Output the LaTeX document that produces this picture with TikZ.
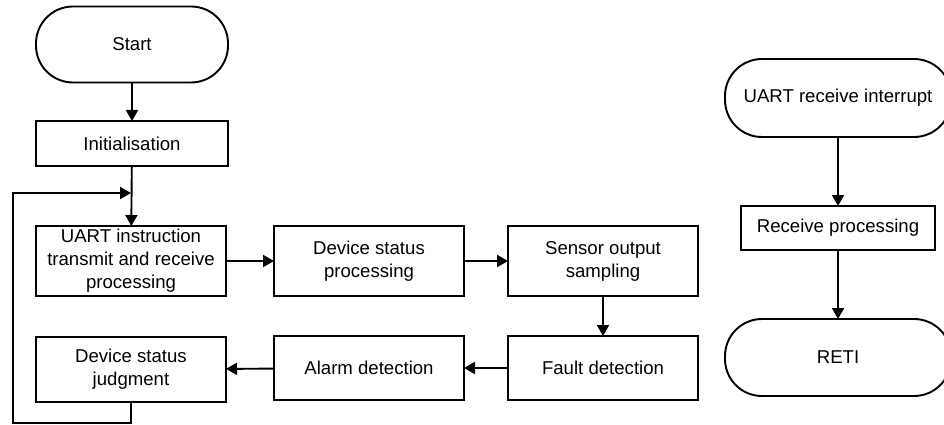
\documentclass[tikz,border=0pt]{standalone}
\usepackage{fontspec}
\setmainfont{Liberation Sans}
\usetikzlibrary{arrows.meta}
\begin{document}
\begin{tikzpicture}[x=1pt,y=-1pt,
  base/.style={draw, line width=1.9pt, align=center, inner sep=2pt, outer sep=0pt,
    font=\fontsize{18.6}{23}\selectfont},
  proc/.style={base, rectangle, minimum width=190pt},
  term/.style={base, rectangle, minimum width=#1, rounded corners=37pt, minimum height=76pt},
  conn/.style={line width=1.9pt, -{Triangle[length=11pt,width=12pt]}}]
\useasboundingbox (0,0) rectangle (944,425);
% main flow
\node[term=192pt] (start) at (132,44.5) {Start};
\node[proc, minimum width=192pt, minimum height=45pt] (init) at (132,143.5) {Initialisation};
\node[proc, minimum height=70pt] (uart) at (131,261) {UART instruction\\transmit and receive\\processing};
\node[proc, minimum height=70pt] (dsp) at (369,261) {Device status\\processing};
\node[proc, minimum height=70pt] (sos) at (603,261) {Sensor output\\sampling};
\node[proc, minimum height=64pt] (fault) at (603,368) {Fault detection};
\node[proc, minimum height=64pt] (alarm) at (369,368) {Alarm detection};
\node[proc, minimum height=65pt] (judge) at (131,369.5) {Device status\\judgment};
\coordinate (merge) at (131,193);
\coordinate (lb) at (131,423);
\coordinate (ll) at (13,423);
\coordinate (lt) at (13,193);
\draw[conn] (start) -- (init);
\draw[conn] (init) -- (uart);
\draw[conn] (uart) -- (dsp);
\draw[conn] (dsp) -- (sos);
\draw[conn] (sos) -- (fault);
\draw[conn] (fault) -- (alarm);
\draw[conn] (alarm) -- (judge);
\draw[conn] (judge.south) -- (lb) -- (ll) -- (lt) -- (merge);
% interrupt flow
\node[term=226pt, minimum height=78pt] (intr) at (838,98) {UART receive interrupt};
\node[proc, minimum width=194pt, minimum height=44pt] (recv) at (838,228) {Receive processing};
\node[term=226pt, minimum height=77pt] (reti) at (838,357.5) {RETI};
\draw[conn] (intr) -- (recv);
\draw[conn] (recv) -- (reti);
\end{tikzpicture}
\end{document}
